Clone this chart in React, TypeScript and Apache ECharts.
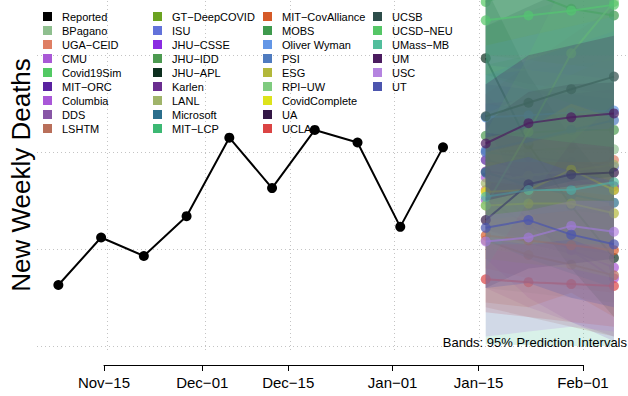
import React, { useEffect, useRef } from "react";
import * as echarts from "echarts";

const FONT = '"Liberation Sans", Arial, Helvetica, sans-serif';

// Observed weekly values (Saturdays)
const reportedDates = [
  "2020-11-07", "2020-11-14", "2020-11-21", "2020-11-28", "2020-12-05",
  "2020-12-12", "2020-12-19", "2020-12-26", "2021-01-02", "2021-01-09",
];
const reportedValues = [63, 112, 93, 134, 215, 163, 223, 210, 123, 205];

// Forecast target dates
const forecastDates = ["2021-01-16", "2021-01-23", "2021-01-30", "2021-02-06"];

// Axis ticks
const tickDates = ["2020-11-15", "2020-12-01", "2020-12-15", "2021-01-01", "2021-01-15", "2021-02-01"];
const tickLabels = ["Nov\u221215", "Dec\u221201", "Dec\u221215", "Jan\u221201", "Jan\u221215", "Feb\u221201"];
const gridValues = [0, 100, 200, 300];

const models = [
  "BPagano", "UGA\u2212CEID", "CMU", "Covid19Sim", "MIT\u2212ORC", "Columbia", "DDS", "LSHTM",
  "GT\u2212DeepCOVID", "ISU", "JHU\u2212CSSE", "JHU\u2212IDD", "JHU\u2212APL", "Karlen", "LANL", "Microsoft", "MIT\u2212LCP",
  "MIT\u2212CovAlliance", "MOBS", "Oliver Wyman", "PSI", "ESG", "RPI\u2212UW", "CovidComplete", "UA", "UCLA",
  "UCSB", "UCSD\u2212NEU", "UMass\u2212MB", "UM", "USC", "UT",
];
const modelColors = [
  "#8FBF8F", "#DF7F64", "#A959D6", "#52C963", "#5A22A0", "#A957D8", "#8856A6", "#B96F5A",
  "#6BA321", "#6272DA", "#8A2BE2", "#4C9A50", "#0D2F1F", "#6A2D8F", "#A0B46A", "#2B6E8C", "#3CB873",
  "#D55A28", "#3F9A4D", "#6396E6", "#4F7BBF", "#B3B83A", "#7FCB7F", "#DDE31B", "#331746", "#DB4444",
  "#2D4D4A", "#55C666", "#52BE9C", "#4B1C5F", "#B584E0", "#4C55AE",
];
const medians = [
  [200, 202, 204, 203], [161, 171, 181, 192], [151, 125, 99, 81], [355, 370, 380, 390],
  [192, 181, 171, 161], [174, 130, 99, 70], [398, 405, 410, 415], [109, 94, 84, 73],
  [388, 395, 400, 408], [200, 195, 190, 185], [377, 380, 385, 390], [217, 220, 223, 223],
  [297, 208, 145, 91], [180, 175, 170, 165], [168, 176, 181, 187], [179, 166, 156, 148],
  [400, 410, 420, 430], [114, 109, 104, 99], [380, 365, 348, 341], [236, 238, 241, 243],
  [202, 212, 223, 233], [145, 147, 147, 137], [145, 221, 302, 355], [159, 161, 182, 161],
  [130, 167, 177, 179], [69, 66, 64, 62], [237, 251, 265, 278], [336, 341, 346, 352],
  [154, 161, 161, 169], [209, 230, 236, 240], [108, 112, 124, 118], [122, 130, 115, 105],
];
const lowers = [
  [60, 55, 50, 45], [80, 70, 60, 55], [60, 40, 25, 10], [250, 240, 235, 230],
  [120, 105, 95, 85], [90, 50, 25, 5], [280, 270, 265, 260], [40, 30, 20, 10],
  [300, 295, 290, 285], [130, 120, 110, 100], [290, 285, 280, 275], [150, 145, 140, 135],
  [230, 140, 80, 30], [120, 110, 100, 95], [100, 95, 90, 85], [110, 90, 75, 60],
  [300, 300, 300, 300], [45, 40, 55, 30], [280, 265, 250, 240], [170, 165, 160, 155],
  [130, 135, 140, 145], [90, 85, 80, 70], [80, 150, 210, 250], [110, 105, 110, 95],
  [60, 80, 85, 90], [35, 30, 25, 20], [150, 160, 170, 175], [220, 215, 210, 205],
  [2, 1, 0, 0], [150, 160, 165, 170], [10, 15, 20, 15], [60, 65, 50, 40],
];
const uppers = [
  [330, 345, 360, 375], [260, 290, 320, 350], [230, 210, 190, 170], [470, 500, 530, 560],
  [270, 265, 260, 255], [260, 220, 190, 160], [520, 540, 560, 580], [180, 170, 160, 150],
  [480, 500, 520, 540], [280, 285, 290, 295], [460, 480, 500, 520], [290, 300, 310, 320],
  [370, 280, 215, 160], [250, 255, 260, 265], [240, 260, 280, 300], [250, 245, 240, 235],
  [500, 520, 540, 560], [190, 190, 190, 190], [480, 470, 460, 450], [310, 320, 330, 340],
  [280, 295, 310, 325], [200, 210, 220, 225], [220, 300, 390, 470], [215, 225, 250, 235],
  [230, 262, 270, 272], [105, 105, 105, 105], [330, 350, 370, 390], [430, 450, 470, 490],
  [380, 400, 420, 440], [270, 300, 310, 320], [135, 140, 150, 150], [185, 195, 180, 170],
];

const toTime = (s: string) => {
  const [y, m, d] = s.split("-").map(Number);
  return new Date(y, m - 1, d).getTime();
};
const DAY = 86400000;

function buildOption() {
  const tickTimes = tickDates.map(toTime);
  const fTimes = forecastDates.map(toTime);
  const rTimes = reportedDates.map(toTime);
  const xMin = tickTimes[0] - 11.5 * DAY;
  const xMax = tickTimes[tickTimes.length - 1] + 7.3 * DAY;

  const labelFor = (v: number) => {
    for (let i = 0; i < tickTimes.length; i++) {
      if (Math.abs(tickTimes[i] - v) < DAY / 2) return tickLabels[i];
    }
    return "";
  };

  const legendNames = ["Reported", ...models];
  const colorOf = (n: string) => (n === "Reported" ? "#000000" : modelColors[models.indexOf(n)]);
  const cols = [legendNames.slice(0, 9), legendNames.slice(9, 18), legendNames.slice(18, 27), legendNames.slice(27)];
  const colLefts = [43, 153, 263, 373];

  // each model gets its own layer: band first, then its median line,
  // so the bands of later models veil the lines of earlier ones
  const modelSeries: any[] = [];
  models.forEach((m, i) => {
    const z = 10 + i;
    modelSeries.push({
      name: m + " lower", type: "line", stack: "band" + i, stackStrategy: "all",
      data: fTimes.map((t, j) => [t, lowers[i][j]]),
      symbol: "none", lineStyle: { opacity: 0, width: 0 }, silent: true, z,
    });
    modelSeries.push({
      name: m + " band", type: "line", stack: "band" + i, stackStrategy: "all",
      data: fTimes.map((t, j) => [t, uppers[i][j] - lowers[i][j]]),
      symbol: "none", lineStyle: { opacity: 0, width: 0 },
      areaStyle: { color: modelColors[i], opacity: 0.22 }, silent: true, z,
    });
    modelSeries.push({
      name: m, type: "line", color: modelColors[i],
      data: fTimes.map((t, j) => [t, medians[i][j]]),
      symbol: "circle", symbolSize: 10,
      lineStyle: { width: 2, opacity: 0.7 },
      itemStyle: { opacity: 0.7, borderWidth: 0 },
      silent: true, z,
    });
  });

  return {
    animation: false,
    textStyle: { fontFamily: FONT },
    grid: [
      { left: 33, right: 0, top: 0, bottom: 46 },
      { left: 104, right: 45, top: 355, bottom: 31 },
    ],
    xAxis: [
      { type: "time", gridIndex: 0, min: xMin, max: xMax, show: false, splitLine: { show: false } },
      {
        type: "value", gridIndex: 1, min: tickTimes[0], max: tickTimes[tickTimes.length - 1],
        axisLine: { show: true, lineStyle: { color: "#000", width: 1 } },
        axisTick: { show: true, customValues: tickTimes, length: 6, lineStyle: { color: "#000", width: 1 } },
        axisLabel: {
          customValues: tickTimes, formatter: (v: number) => labelFor(v),
          fontSize: 15, color: "#000", margin: 10, fontFamily: FONT, hideOverlap: false,
          showMinLabel: true, showMaxLabel: true,
        },
        splitLine: { show: false },
      },
    ],
    yAxis: [
      {
        type: "value", gridIndex: 0, min: -4, max: 357,
        axisLine: { show: false }, axisTick: { show: false }, axisLabel: { show: false },
        splitLine: { show: false },
        name: "New Weekly Deaths", nameLocation: "middle", nameGap: 3,
        nameTextStyle: { fontSize: 26, color: "#000", fontFamily: FONT },
      },
      { type: "value", gridIndex: 1, min: 0, max: 1, show: false },
    ],
    legend: cols.map((col, k) => ({
      orient: "vertical", left: colLefts[k], top: 11,
      itemWidth: 9, itemHeight: 9, itemGap: 3, icon: "rect", selectedMode: false,
      padding: 0,
      textStyle: { fontSize: 11, color: "#000", fontFamily: FONT, padding: [0, 0, 0, 5] },
      data: col.map((n) => ({ name: n, itemStyle: { color: colorOf(n), opacity: 1 } })),
    })),
    graphic: [
      {
        type: "text", right: 1, top: 336, z: 200,
        style: { text: "Bands: 95% Prediction Intervals", fontSize: 13, fill: "#000", font: `13px ${FONT}` },
      },
    ],
    series: [
      ...modelSeries,
      {
        name: "Reported", type: "line", color: "#000",
        data: rTimes.map((t, j) => [t, reportedValues[j]]),
        symbol: "circle", symbolSize: 10,
        lineStyle: { width: 2, color: "#000" },
        itemStyle: { color: "#000", borderWidth: 0 },
        silent: true, z: 100,
        markLine: {
          silent: true, symbol: ["none", "none"], label: { show: false }, z: 1,
          lineStyle: { color: "#c4c4c4", type: [1, 3], width: 1 },
          emphasis: { disabled: true },
          data: [
            ...gridValues.map((v) => ({ yAxis: v })),
            ...tickTimes.map((t) => ({ xAxis: t })),
          ],
        },
      },
    ],
  };
}

export default function App() {
  const ref = useRef<HTMLDivElement>(null);
  useEffect(() => {
    if (!ref.current) return;
    const chart = echarts.init(ref.current, null, { renderer: "svg" });
    chart.setOption(buildOption() as any);
    return () => chart.dispose();
  }, []);
  return (
    <div
      ref={ref}
      style={{ position: "fixed", left: 0, top: 0, width: 628, height: 396, background: "#fff" }}
    />
  );
}
